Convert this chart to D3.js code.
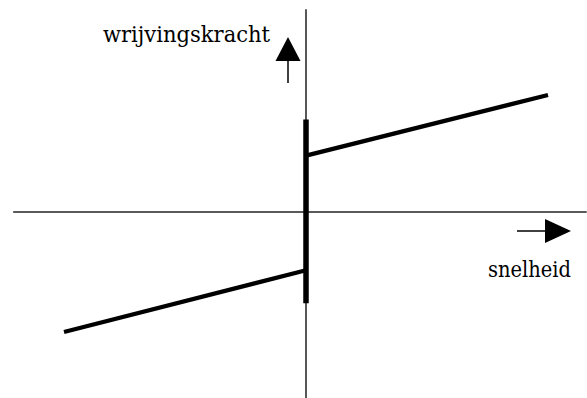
<!DOCTYPE html>
<html>
<head>
<meta charset="utf-8">
<script src="https://cdn.jsdelivr.net/npm/d3@7"></script>
<style>
  body { margin: 0; background: #fff; }
  svg { display: block; }
  text { font-family: "DejaVu Serif", "Liberation Serif", serif; font-size: 22px; fill: #000; }
</style>
</head>
<body>
<div id="chart-area"></div>
<script>
// friction force vs speed (schematic, arbitrary units)
var axisSpeed = [-12.1, 11.6];
var axisForce = [-15.5, 16.9];
var upperSpeed = [0, 10];
var upperForce = [4.7, 9.75];
var lowerSpeed = [-10, 0];
var lowerForce = [-10, -4.85];
var staticForce = [-7.6, 7.7];
var labels = ["wrijvingskracht", "snelheid"];

var width = 587, height = 398;

var svg = d3.select("#chart-area")
  .append("svg")
    .attr("width", width)
    .attr("height", height);

var x = d3.scaleLinear().domain([-10, 10]).range([64, 548]);
var y = d3.scaleLinear().domain([-10, 10]).range([332, 92]);

var line = d3.line()
  .x(function(d){ return x(d[0]); })
  .y(function(d){ return y(d[1]); });

// Axes
svg.append("line")
  .attr("x1", x(axisSpeed[0])).attr("x2", x(axisSpeed[1]))
  .attr("y1", y(0)).attr("y2", y(0))
  .attr("stroke", "#222").attr("stroke-width", 1.6);

svg.append("line")
  .attr("x1", x(0)).attr("x2", x(0))
  .attr("y1", y(axisForce[0])).attr("y2", y(axisForce[1]))
  .attr("stroke", "#111").attr("stroke-width", 1.4);

// static friction range
svg.append("line")
  .attr("x1", x(0)).attr("x2", x(0))
  .attr("y1", y(staticForce[0])).attr("y2", y(staticForce[1]))
  .attr("stroke", "#000").attr("stroke-width", 5.5);

// kinetic friction lines
var segs = [d3.zip(upperSpeed, upperForce), d3.zip(lowerSpeed, lowerForce)];
svg.selectAll(".kin")
  .data(segs)
  .enter().append("path")
    .attr("class", "kin")
    .attr("d", line)
    .attr("fill", "none")
    .attr("stroke", "#000")
    .attr("stroke-width", 4.2);

// up arrow (force)
svg.append("line")
  .attr("x1", 288).attr("x2", 288)
  .attr("y1", 83).attr("y2", 60)
  .attr("stroke", "#000").attr("stroke-width", 1.5);
svg.append("path")
  .attr("d", "M288,37 L300.5,61 L275.5,61 Z")
  .attr("fill", "#000");

// right arrow (speed)
svg.append("line")
  .attr("x1", 517).attr("x2", 546)
  .attr("y1", 231).attr("y2", 231)
  .attr("stroke", "#000").attr("stroke-width", 1.5);
svg.append("path")
  .attr("d", "M571,231 L545,219 L545,243 Z")
  .attr("fill", "#000");

// Labels
svg.append("text")
  .attr("x", 103).attr("y", 42)
  .attr("textLength", 167)
  .attr("lengthAdjust", "spacingAndGlyphs")
  .text(labels[0]);

svg.append("text")
  .attr("x", 488).attr("y", 277)
  .attr("textLength", 83)
  .attr("lengthAdjust", "spacingAndGlyphs")
  .text(labels[1]);
</script>
</body>
</html>
